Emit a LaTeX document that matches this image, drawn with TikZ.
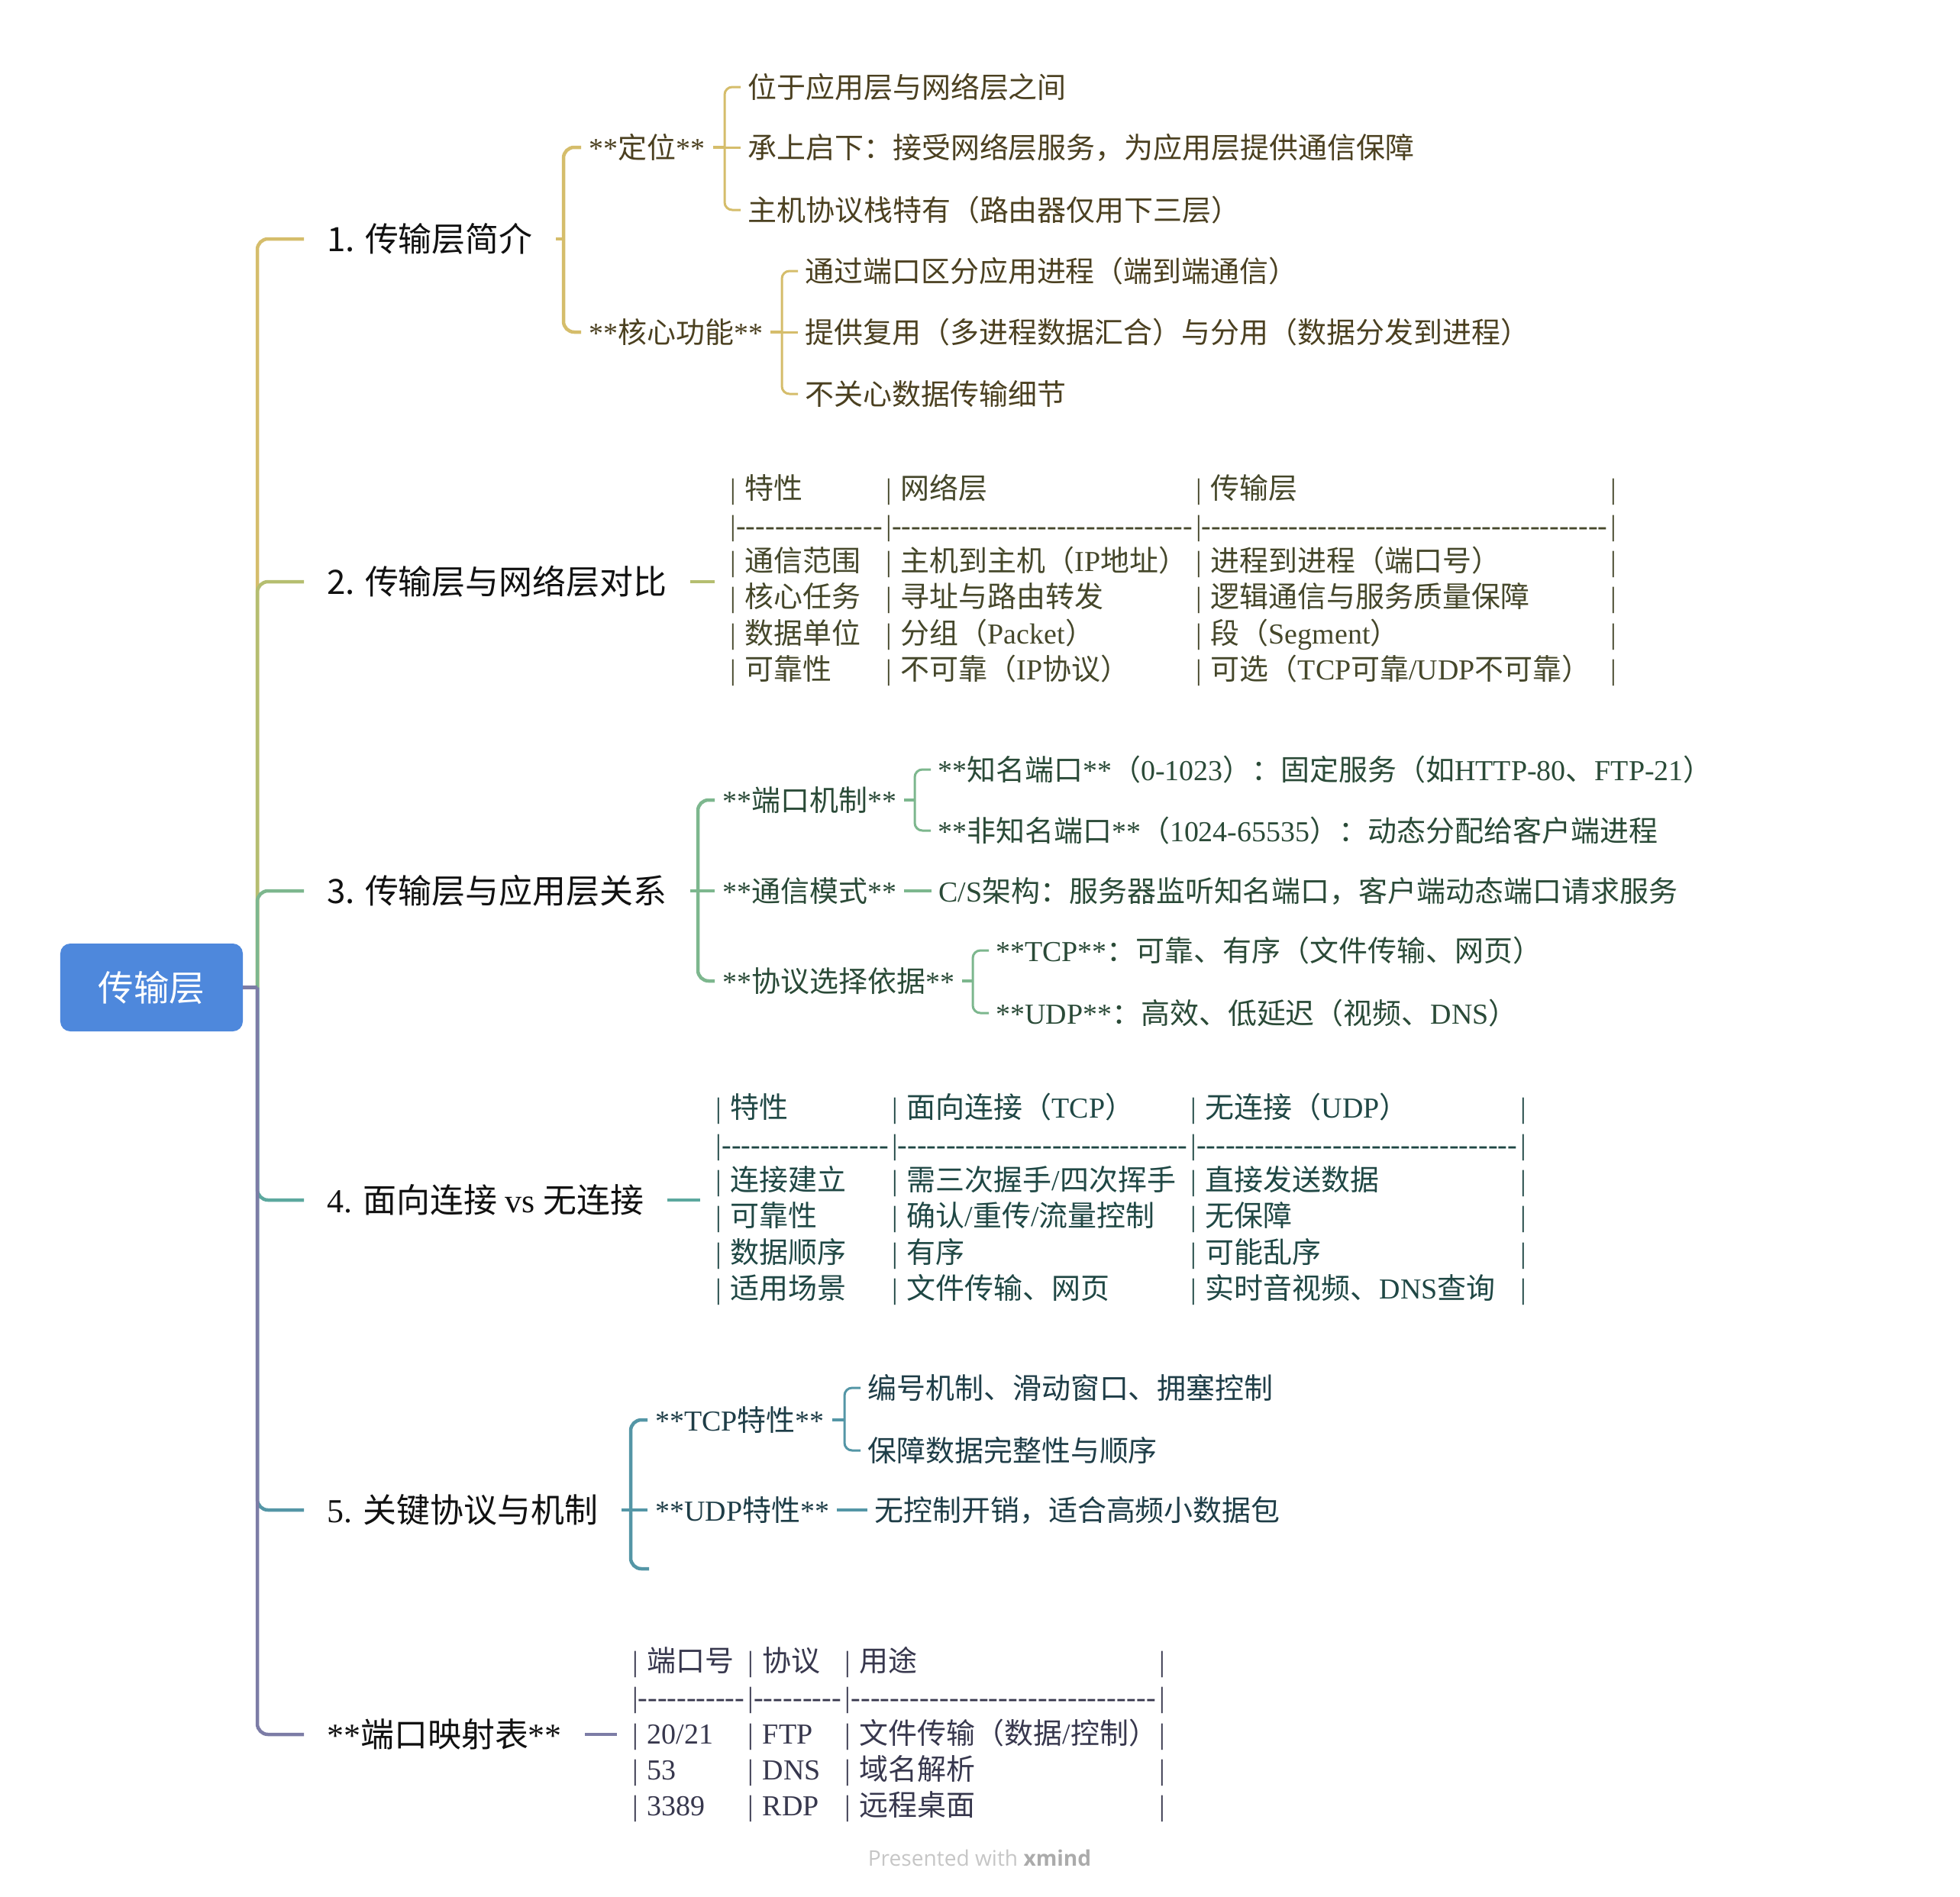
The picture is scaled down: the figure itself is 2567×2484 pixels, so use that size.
\documentclass[tikz,border=0pt]{standalone}
\usepackage{fontspec}
\setmainfont{Liberation Serif}
\newfontfamily\cjkf{Noto Sans CJK SC}
\newfontfamily\latf{Liberation Serif}
\newfontfamily\wmf{Open Sans}
\newXeTeXintercharclass\mycjkclass
\newcount\mycnt
\mycnt="3000 \loop\ifnum\mycnt<"3040 \XeTeXcharclass\mycnt=\mycjkclass \advance\mycnt by 1 \repeat
\mycnt="4E00 \loop\ifnum\mycnt<"A000 \XeTeXcharclass\mycnt=\mycjkclass \advance\mycnt by 1 \repeat
\mycnt="FF00 \loop\ifnum\mycnt<"FFF0 \XeTeXcharclass\mycnt=\mycjkclass \advance\mycnt by 1 \repeat
\XeTeXinterchartoks 0 \mycjkclass = {\cjkf}
\XeTeXinterchartoks 4095 \mycjkclass = {\cjkf}
\XeTeXinterchartoks \mycjkclass 0 = {\latf}
\XeTeXinterchartoks 4095 0 = {\latf}
\XeTeXinterchartokenstate=1

\definecolor{rootblue}{HTML}{4E88DC}
\definecolor{mtxt}{HTML}{111111}
\definecolor{c1}{HTML}{D5BD6B}
\definecolor{c2}{HTML}{B5BE70}
\definecolor{c3}{HTML}{7DB78E}
\definecolor{c4}{HTML}{5CA89E}
\definecolor{c5}{HTML}{5496A6}
\definecolor{c6}{HTML}{7C7CA6}
\definecolor{t1}{HTML}{4B4020}
\definecolor{t2}{HTML}{45472A}
\definecolor{t3}{HTML}{2A4A37}
\definecolor{t4}{HTML}{1F4744}
\definecolor{t5}{HTML}{1E3D47}
\definecolor{t6}{HTML}{37374D}
\definecolor{wmA}{HTML}{C6C6C6}
\definecolor{wmB}{HTML}{ABABAB}

\newcommand\cellbox[2]{\makebox[#1][l]{|\hspace{2.4mm}#2}}
\newcommand\dashcell[1]{\hbox to #1{|\xleaders\hbox{-}\hfill\hspace{0.8mm}}}
\newcommand\trowA[3]{\cellbox{40.8mm}{#1}\cellbox{81.2mm}{#2}\cellbox{108.6mm}{#3}|}
\newcommand\drowA{\dashcell{40.8mm}\dashcell{81.2mm}\dashcell{108.6mm}|}
\newcommand\trowB[3]{\cellbox{46.2mm}{#1}\cellbox{78.2mm}{#2}\cellbox{86.4mm}{#3}|}
\newcommand\drowB{\dashcell{46.2mm}\dashcell{78.2mm}\dashcell{86.4mm}|}
\newcommand\trowC[3]{\cellbox{30.2mm}{#1}\cellbox{25.4mm}{#2}\cellbox{82.4mm}{#3}|}
\newcommand\drowC{\dashcell{30.2mm}\dashcell{25.4mm}\dashcell{82.4mm}|}
\newcommand\sansnum[1]{{\XeTeXinterchartokenstate=0 \cjkf #1}}

\begin{document}
\begin{tikzpicture}[x=0.2mm,y=-0.2mm,
  every node/.style={inner sep=0pt},
  rootbox/.style={fill=rootblue,text=white,rounded corners=2.6mm,minimum width=47.8mm,minimum height=23mm,font=\fontsize{26.5}{30}\selectfont},
  lbl/.style={anchor=west,inner xsep=6mm,text=mtxt,font=\fontsize{25}{30}\selectfont},
  sub/.style={anchor=west,inner xsep=2mm,font=\fontsize{21.6}{27}\selectfont},
  leaf/.style={anchor=west,inner xsep=1.8mm,font=\fontsize{21.6}{27}\selectfont},
  tbl/.style={anchor=west,inner xsep=4mm,align=left,font=\fontsize{21.6}{26.9}\selectfont},
  lA/.style={line width=0.9mm,rounded corners=2.8mm},
  lB/.style={line width=0.8mm,rounded corners=2.4mm},
  lC/.style={line width=0.6mm,rounded corners=2mm}]
\useasboundingbox (0,0) rectangle (2567,2484);

% root
\node[rootbox] (root) at (198.5,1293.5) {传输层};
\coordinate (jn) at (337,1293.5);

% main branches
\node[lbl] (b1) at (398,313) {\sansnum{1. }传输层简介};
\node[lbl] (b2) at (398,762) {\sansnum{2. }传输层与网络层对比};
\node[lbl] (b3) at (398,1167) {\sansnum{3. }传输层与应用层关系};
\node[lbl] (b4) at (398,1572) {4. 面向连接 vs 无连接};
\node[lbl] (b5) at (398,1978) {5. 关键协议与机制};
\node[lbl] (b6) at (398,2272) {**端口映射表**};

% branch 1
\coordinate (s1) at (738,313);
\node[sub,text=t1] (n11) at (761,193) {**定位**};
\node[sub,text=t1] (n12) at (761,435) {**核心功能**};
\coordinate (s11) at (949,193);
\coordinate (s12) at (1024,435);
\node[leaf,text=t1] (l111) at (970,114) {位于应用层与网络层之间};
\node[leaf,text=t1] (l112) at (970,193) {承上启下：接受网络层服务，为应用层提供通信保障};
\node[leaf,text=t1] (l113) at (970,275) {主机协议栈特有（路由器仅用下三层）};
\node[leaf,text=t1] (l121) at (1045,355) {通过端口区分应用进程（端到端通信）};
\node[leaf,text=t1] (l122) at (1045,435) {提供复用（多进程数据汇合）与分用（数据分发到进程）};
\node[leaf,text=t1] (l123) at (1045,516) {不关心数据传输细节};

% branch 2
\node[tbl,text=t2] (tb2) at (936,760) {%
\trowA{特性}{网络层}{传输层}\\
\drowA\\
\trowA{通信范围}{主机到主机（IP地址）}{进程到进程（端口号）}\\
\trowA{核心任务}{寻址与路由转发}{逻辑通信与服务质量保障}\\
\trowA{数据单位}{分组（Packet）}{段（Segment）}\\
\trowA{可靠性}{不可靠（IP协议）}{可选（TCP可靠/UDP不可靠）}};

% branch 3
\coordinate (s3) at (914,1167);
\node[sub,text=t3] (n31) at (936,1048) {**端口机制**};
\node[sub,text=t3] (n32) at (936,1167) {**通信模式**};
\node[sub,text=t3] (n33) at (936,1285) {**协议选择依据**};
\coordinate (s31) at (1198,1048);
\coordinate (s33) at (1274,1285);
\node[leaf,text=t3] (l311) at (1219,1008) {**知名端口**（0-1023）：固定服务（如HTTP-80、FTP-21）};
\node[leaf,text=t3] (l312) at (1219,1088) {**非知名端口**（1024-65535）：动态分配给客户端进程};
\node[leaf,text=t3] (l321) at (1220,1167) {C/S架构：服务器监听知名端口，客户端动态端口请求服务};
\node[leaf,text=t3] (l331) at (1295,1245) {**TCP**：可靠、有序（文件传输、网页）};
\node[leaf,text=t3] (l332) at (1295,1327) {**UDP**：高效、低延迟（视频、DNS）};

% branch 4
\node[tbl,text=t4] (tb4) at (917,1571) {%
\trowB{特性}{面向连接（TCP）}{无连接（UDP）}\\
\drowB\\
\trowB{连接建立}{需三次握手/四次挥手}{直接发送数据}\\
\trowB{可靠性}{确认/重传/流量控制}{无保障}\\
\trowB{数据顺序}{有序}{可能乱序}\\
\trowB{适用场景}{文件传输、网页}{实时音视频、DNS查询}};

% branch 5
\coordinate (s5) at (826,1978);
\node[sub,text=t5] (n51) at (848,1860) {**TCP特性**};
\node[sub,text=t5] (n52) at (848,1978) {**UDP特性**};
\coordinate (hk) at (850,2055);
\coordinate (s51) at (1106,1860);
\node[leaf,text=t5] (l511) at (1127,1818) {编号机制、滑动窗口、拥塞控制};
\node[leaf,text=t5] (l512) at (1127,1900) {保障数据完整性与顺序};
\node[leaf,text=t5] (l521) at (1136,1978) {无控制开销，适合高频小数据包};

% branch 6
\node[tbl,text=t6] (tb6) at (808,2272) {%
\trowC{端口号}{协议}{用途}\\
\drowC\\
\trowC{20/21}{FTP}{文件传输（数据/控制）}\\
\trowC{53}{DNS}{域名解析}\\
\trowC{3389}{RDP}{远程桌面}};

% watermark
\node (wm) at (1283,2434) {\XeTeXinterchartokenstate=0 \wmf\fontsize{16}{19}\selectfont\color{wmA}Presented with \textcolor{wmB}{\bfseries xmind}};

% ---------- connectors ----------
% branch 1
\draw[c1,lA] (jn) |- (b1.west);
\draw[c1,lA] (b1.east) -- (s1);
\draw[c1,lA] (s1) |- (n11.west);
\draw[c1,lA] (s1) |- (n12.west);
\draw[c1,lB] (n11.east) -- (s11);
\draw[c1,lC] (s11) |- (l111.west);
\draw[c1,lC] (s11) -- (l112.west);
\draw[c1,lC] (s11) |- (l113.west);
\draw[c1,lB] (n12.east) -- (s12);
\draw[c1,lC] (s12) |- (l121.west);
\draw[c1,lC] (s12) -- (l122.west);
\draw[c1,lC] (s12) |- (l123.west);
% branch 2
\draw[c2,lA] (jn) |- (b2.west);
\draw[c2,lA] (b2.east) -- (b2.east -| tb2.west);
% branch 3
\draw[c3,lA] (jn) |- (b3.west);
\draw[c3,lA] (b3.east) -- (s3);
\draw[c3,lA] (s3) |- (n31.west);
\draw[c3,lA] (s3) -- (n32.west);
\draw[c3,lA] (s3) |- (n33.west);
\draw[c3,lB] (n31.east) -- (s31);
\draw[c3,lC] (s31) |- (l311.west);
\draw[c3,lC] (s31) |- (l312.west);
\draw[c3,lB] (n32.east) -- (l321.west);
\draw[c3,lB] (n33.east) -- (s33);
\draw[c3,lC] (s33) |- (l331.west);
\draw[c3,lC] (s33) |- (l332.west);
% branch 4
\draw[c4,lA] (jn) |- (b4.west);
\draw[c4,lA] (b4.east) -- (b4.east -| tb4.west);
% branch 5
\draw[c5,lA] (jn) |- (b5.west);
\draw[c5,lA] (b5.east) -- (s5);
\draw[c5,lA] (s5) |- (n51.west);
\draw[c5,lA] (s5) -- (n52.west);
\draw[c5,lA] (s5) |- (hk);
\draw[c5,lB] (n51.east) -- (s51);
\draw[c5,lC] (s51) |- (l511.west);
\draw[c5,lC] (s51) |- (l512.west);
\draw[c5,lB] (n52.east) -- (l521.west);
% branch 6 (drawn last, on top of trunk)
\draw[c6,lA] (jn) |- (b6.west);
\draw[c6,lA] (b6.east) -- (b6.east -| tb6.west);
\draw[c6,lA] (root.east) -- (jn);
\end{tikzpicture}
\end{document}
